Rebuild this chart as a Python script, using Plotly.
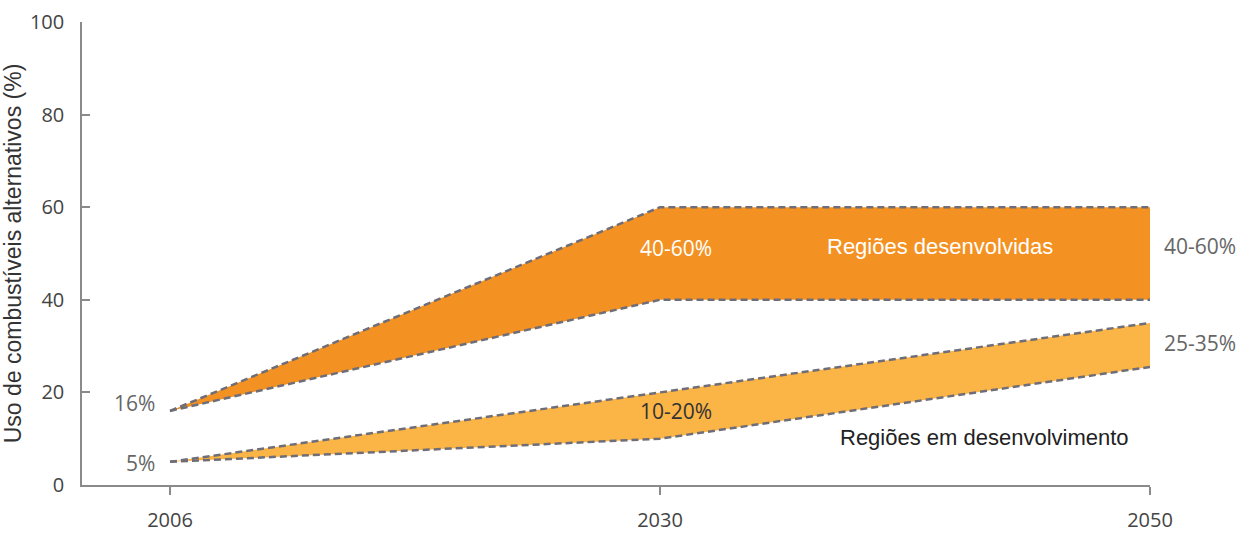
import plotly.graph_objects as go

# Categories along the horizontal axis (evenly spaced)
years = ["2006", "2030", "2050"]
# Share of alternative fuels (%), lower and upper bounds of each scenario band
developed_low = [16, 40, 40]
developed_high = [16, 60, 60]
developing_low = [5, 10, 25.5]
developing_high = [5, 20, 35]

y_ticks = [0, 20, 40, 60, 80, 100]

x_idx = list(range(len(years)))

DARK_ORANGE = "#F39222"
LIGHT_ORANGE = "#FBB446"
DASH_GREY = "#6F6E78"
FONT = "Open Sans"

fig = go.Figure()


def add_band(low, high, color):
    # filled polygon between the two bounds
    fig.add_trace(go.Scatter(
        x=x_idx + x_idx[::-1], y=low + high[::-1],
        fill="toself", fillcolor=color, mode="none",
        hoverinfo="skip", showlegend=False,
    ))
    # dashed outlines for both bounds
    for series in (low, high):
        fig.add_trace(go.Scatter(
            x=x_idx, y=series, mode="lines",
            line=dict(color=DASH_GREY, width=2.5, dash="7px,4px"),
            hoverinfo="skip", showlegend=False,
        ))


add_band(developed_low, developed_high, DARK_ORANGE)
add_band(developing_low, developing_high, LIGHT_ORANGE)


def label(x, y, text, color, family=FONT, size=21, xanchor="center", xshift=0, yshift=0):
    fig.add_annotation(x=x, y=y, xref="x", yref="y", text=text, showarrow=False,
                       font=dict(family=family, size=size, color=color),
                       xanchor=xanchor, xshift=xshift, yshift=yshift)


label(0, developed_low[0], f"{developed_low[0]}%", "#666666", xanchor="right", xshift=-13, yshift=8)
label(0, developing_low[0], f"{developing_low[0]}%", "#666666", xanchor="right", xshift=-13, yshift=-1)
label(1, (developed_low[1] + developed_high[1]) / 2 + 1.2,
      f"{developed_low[1]}-{developed_high[1]}%", "#FFFFFF", xshift=16)
label(1.571, 51.6, "Regiões desenvolvidas", "#FFFFFF", family="Liberation Sans", size=22)
label(2, 51.6, f"{developed_low[2]}-{developed_high[2]}%", "#666666", xanchor="left", xshift=12)
label(2, 30.7, f"{round(developing_low[2] - 0.5)}-{developing_high[2]}%", "#666666", xanchor="left", xshift=12)
label(1, 16, f"{developing_low[1]}-{developing_high[1]}%", "#333333", xshift=16)
label(1.663, 10.2, "Regiões em desenvolvimento", "#222222", family="Liberation Sans", size=22)

fig.update_layout(
    width=1242, height=537,
    margin=dict(l=82, r=92, t=22, b=52),
    paper_bgcolor="white", plot_bgcolor="white",
    font=dict(family=FONT, color="#444444"),
    xaxis=dict(
        range=[-88 / 490, 2], tickvals=x_idx, ticktext=years, automargin=False,
        showgrid=False, zeroline=False, showline=True, linecolor="#8A8A8A", linewidth=1.5,
        ticks="outside", ticklen=8, tickcolor="#8A8A8A", tickwidth=1.5,
        tickfont=dict(size=20, color="#444444"), ticklabelstandoff=8,
    ),
    yaxis=dict(
        range=[0, 100], tickvals=y_ticks, automargin=False,
        showgrid=False, zeroline=False, showline=True, linecolor="#8A8A8A", linewidth=1.5,
        ticks="inside", ticklen=8, tickcolor="#8A8A8A", tickwidth=1.5,
        tickfont=dict(size=20, color="#444444"), ticklabelstandoff=12,
        title=dict(text="Uso de combustíveis alternativos (%)",
                   font=dict(family="Liberation Sans", size=23, color="#333333"), standoff=2),
    ),
)

fig.write_html("out.html")
